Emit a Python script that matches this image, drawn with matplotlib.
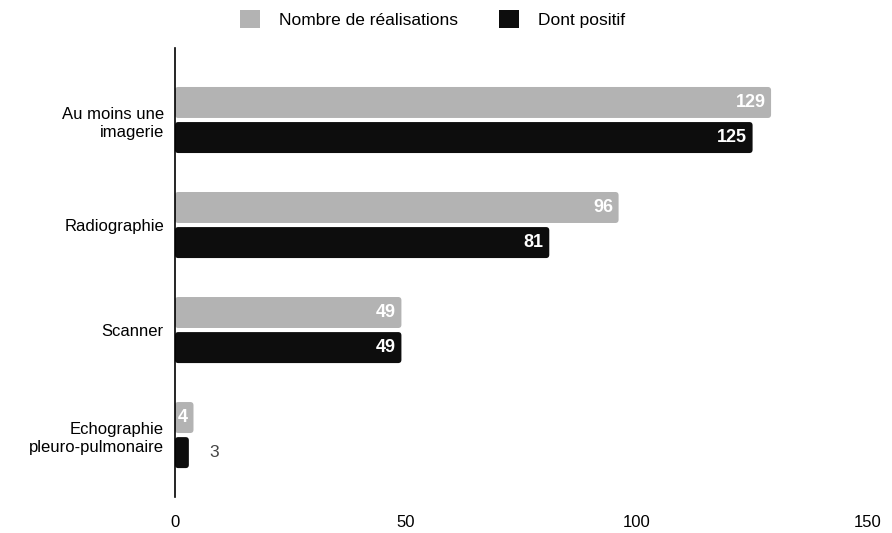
import matplotlib
matplotlib.use('Agg')
from matplotlib import pyplot as plt
from matplotlib.patches import FancyBboxPatch, Patch
import numpy as np

plt.rcParams['font.family'] = ['Liberation Sans', 'DejaVu Sans']

categories = ['Au moins une\nimagerie', 'Radiographie', 'Scanner', 'Echographie\npleuro-pulmonaire']
realisations = [129, 96, 49, 4]
positifs = [125, 81, 49, 3]
series_names = ['Nombre de réalisations', 'Dont positif']

gray = '#b3b3b3'
black = '#0d0d0d'

fig = plt.figure(figsize=(8.92, 5.33), dpi=100)
ax = fig.add_axes([0.1962, 0.0675, 0.777, 0.8425])

y = np.arange(len(categories))
h = 0.295
off = 0.167

bars_r = ax.barh(y - off, realisations, height=h, color=gray)
bars_p = ax.barh(y + off, positifs, height=h, color=black)

# swap plain rectangles for rounded ones
for bars in (bars_r, bars_p):
    for r in bars:
        x0, y0 = r.get_x(), r.get_y()
        w, hh = r.get_width(), r.get_height()
        fb = FancyBboxPatch((x0, y0), w, hh,
                            boxstyle='round,pad=0,rounding_size=0.7',
                            mutation_aspect=0.045,
                            facecolor=r.get_facecolor(), edgecolor='none')
        r.set_visible(False)
        ax.add_patch(fb)

for yy, v in zip(y - off, realisations):
    ax.text(v - 1.2, yy, str(v), ha='right', va='center', color='white',
            fontsize=13, fontweight='bold')
for yy, v in zip(y + off, positifs):
    if v >= 4:
        ax.text(v - 1.2, yy, str(v), ha='right', va='center', color='white',
                fontsize=13, fontweight='bold')
    else:
        ax.text(v + 4.5, yy, str(v), ha='left', va='center', color='#444444',
                fontsize=12.5)

ax.set_xlim(0, 150)
ax.set_ylim(len(categories) - 1 + 0.59, -0.686)
ax.set_xticks([0, 50, 100, 150])
ax.set_yticks(y)
ax.set_yticklabels(categories, fontsize=12, linespacing=1.25)
ax.tick_params(axis='both', length=0)
ax.tick_params(axis='x', pad=13, labelsize=12)
ax.tick_params(axis='y', pad=8)

for s in ['top', 'right', 'bottom']:
    ax.spines[s].set_visible(False)
ax.spines['left'].set_color('black')
ax.spines['left'].set_linewidth(1.2)

handles = [Patch(facecolor=gray, label=series_names[0]),
           Patch(facecolor=black, label=series_names[1])]
fig.legend(handles=handles, loc='upper center', bbox_to_anchor=(0.485, 1.01),
           ncol=2, frameon=False, fontsize=12.5, handlelength=1.15,
           handleheight=1.15, columnspacing=2.4, handletextpad=1.1)

plt.savefig('out.png', dpi=100)
